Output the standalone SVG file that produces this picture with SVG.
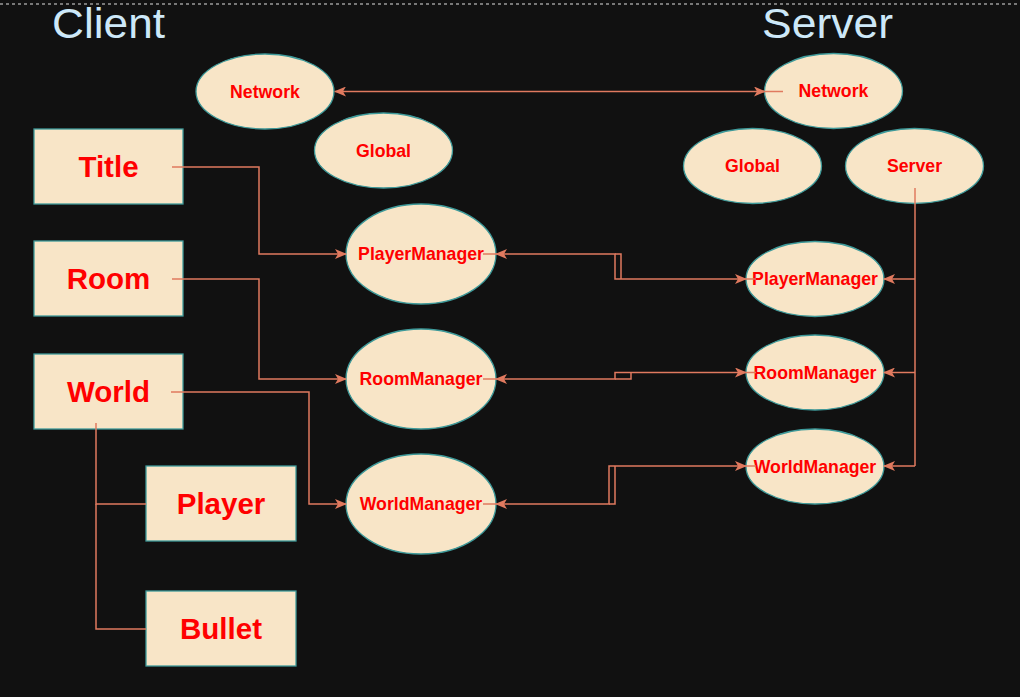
<svg xmlns="http://www.w3.org/2000/svg" width="1020" height="697" viewBox="0 0 1020 697">
<defs>
<style>
.bg{fill:#111111}
.node{fill:#F8E5C7;stroke:#3E9A9A;stroke-width:1.3}
.rt{font-family:"Liberation Sans",Arial,sans-serif;font-weight:bold;font-size:29.5px;fill:#FF0000;text-anchor:middle;dominant-baseline:central}
.et{font-family:"Liberation Sans",Arial,sans-serif;font-weight:bold;font-size:17.7px;fill:#FF0000;text-anchor:middle;dominant-baseline:central}
.hd{font-family:"Liberation Sans",Arial,sans-serif;font-size:42px;fill:#CDE8F8}
.ln{fill:none;stroke:#E07A5F;stroke-width:1.5}
.ar{marker-end:url(#arr)}
.ar2{marker-start:url(#arr);marker-end:url(#arr)}
</style>
<marker id="arr" viewBox="0 0 12 10" refX="11" refY="5" markerWidth="12" markerHeight="10" markerUnits="userSpaceOnUse" orient="auto-start-reverse">
<path d="M0,0 L12,5 L0,10 L3,5 Z" fill="#E07A5F"/>
</marker>
</defs>
<rect class="bg" x="0" y="0" width="1020" height="697"/>
<line x1="0" y1="4" x2="1020" y2="4" stroke="#9a9a9a" stroke-width="1.5" stroke-dasharray="3,3"/>
<text class="hd" x="52" y="38" textLength="113" lengthAdjust="spacingAndGlyphs">Client</text>
<text class="hd" x="762" y="38" textLength="131" lengthAdjust="spacingAndGlyphs">Server</text>

<g id="title"><rect class="node" x="34" y="129" width="149" height="75"/><text class="rt" x="108.5" y="166.5">Title</text></g>
<g id="room"><rect class="node" x="34" y="241" width="149" height="75"/><text class="rt" x="108.5" y="278.5">Room</text></g>
<g id="world"><rect class="node" x="34" y="354" width="149" height="75"/><text class="rt" x="108.5" y="391.5">World</text></g>
<g id="player"><rect class="node" x="146" y="466" width="150" height="75"/><text class="rt" x="221" y="503.5">Player</text></g>
<g id="bullet"><rect class="node" x="146" y="591" width="150" height="75"/><text class="rt" x="221" y="628.5">Bullet</text></g>

<g id="c-network"><ellipse class="node" cx="265" cy="91.5" rx="69" ry="37.5"/><text class="et" x="265" y="91.5">Network</text></g>
<g id="c-global"><ellipse class="node" cx="383.5" cy="150.5" rx="69" ry="37.5"/><text class="et" x="383.5" y="150.5">Global</text></g>
<g id="c-playermanager"><ellipse class="node" cx="421" cy="254" rx="75" ry="50"/><text class="et" x="421" y="254">PlayerManager</text></g>
<g id="c-roommanager"><ellipse class="node" cx="421" cy="379" rx="75" ry="50"/><text class="et" x="421" y="379">RoomManager</text></g>
<g id="c-worldmanager"><ellipse class="node" cx="421" cy="504" rx="75" ry="50"/><text class="et" x="421" y="504">WorldManager</text></g>

<g id="s-network"><ellipse class="node" cx="833.5" cy="91" rx="69" ry="37.5"/><text class="et" x="833.5" y="91">Network</text></g>
<g id="s-global"><ellipse class="node" cx="752.5" cy="166" rx="69" ry="37.5"/><text class="et" x="752.5" y="166">Global</text></g>
<g id="s-server"><ellipse class="node" cx="914.5" cy="166" rx="69" ry="37.5"/><text class="et" x="914.5" y="166">Server</text></g>
<g id="s-playermanager"><ellipse class="node" cx="815" cy="279" rx="69" ry="37.5"/><text class="et" x="815" y="279">PlayerManager</text></g>
<g id="s-roommanager"><ellipse class="node" cx="815" cy="372.5" rx="69" ry="37.5"/><text class="et" x="815" y="372.5">RoomManager</text></g>
<g id="s-worldmanager"><ellipse class="node" cx="815" cy="466.5" rx="69" ry="37.5"/><text class="et" x="815" y="466.5">WorldManager</text></g>

<g id="connectors">
<path class="ln ar2" d="M335 91.5 H765"/>
<path class="ln" d="M765 91.5 H783"/>
<path class="ln ar" d="M172 167 H259 V254 H346"/>
<path class="ln ar" d="M172 279 H259 V379 H346"/>
<path class="ln ar" d="M171 392 H309 V504 H346"/>
<path class="ln" d="M96 423 V504 H146"/>
<path class="ln" d="M96 504 V629 H146"/>
<path class="ln ar2" d="M496 254 H615 V279 H746"/>
<path class="ln" d="M615 254 H621 V279"/>
<path class="ln" d="M483 254 H496 M746 279 H756"/>
<path class="ln ar2" d="M496 379 H615 V372.5 H746"/>
<path class="ln" d="M615 379 H631 V372.5"/>
<path class="ln" d="M483 379 H496 M746 372.5 H756"/>
<path class="ln ar2" d="M496 504 H609 V466 H746"/>
<path class="ln" d="M609 504 H615 V466"/>
<path class="ln" d="M483 504 H496 M746 466 H756"/>
<path class="ln" d="M915 188 V466"/>
<path class="ln ar" d="M915 279 H884"/>
<path class="ln ar" d="M915 372.5 H884"/>
<path class="ln ar" d="M915 466 H884"/>
</g>
</svg>
